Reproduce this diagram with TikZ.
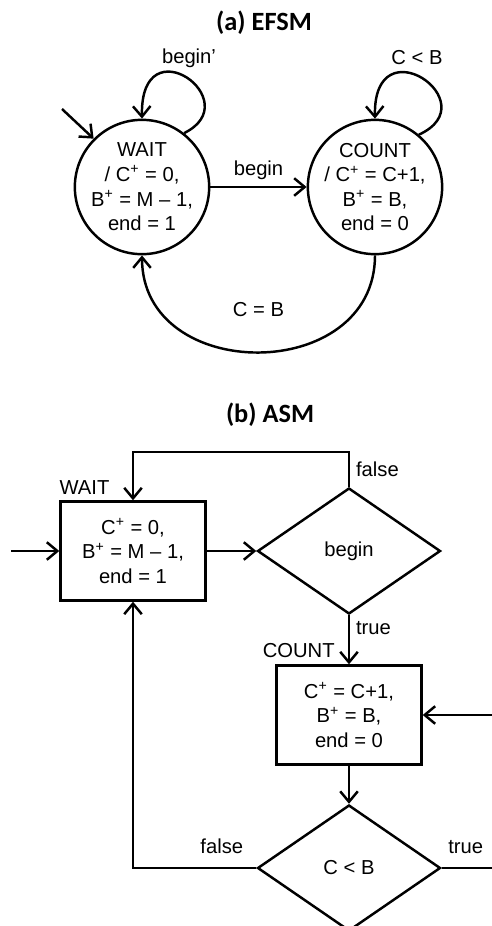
\documentclass[tikz,border=0pt]{standalone}
\usepackage{fontspec}
\setmainfont{Liberation Sans}
\newfontfamily\titlefont{Carlito}
\usetikzlibrary{shapes.geometric, arrows.meta}
\tikzset{
  state/.style={circle, minimum size=2.48cm, inner sep=0pt, align=center, draw=black, line width=1.4pt},
  process/.style={rectangle, minimum width=2.9cm, minimum height=1.98cm, align=center, draw=black, line width=1.4pt},
  decision/.style={diamond, minimum width=3.66cm, minimum height=2.52cm, inner sep=0pt, draw=black, line width=1.4pt},
  heading/.style={font=\titlefont\bfseries\fontsize{15pt}{18pt}\selectfont},
  arrow/.style={line width=1.4pt,->,>={Straight Barb[length=6pt,width=10pt]}}
}

\begin{document}
\begin{tikzpicture}[font=\fontsize{11.5pt}{14pt}\selectfont]

        \useasboundingbox (0,0) rectangle (9.84,-18.52);
        \clip (0,0) rectangle (9.84,-18.52);

        % Part (a): EFSM
        \node (titlea) [heading] at (5.28,-0.46) {(a) EFSM};
        \node (wait) [state] at (2.84,-3.74) {WAIT\\/ C\textsuperscript{+} = 0,\\B\textsuperscript{+} = M – 1,\\end = 1};
        \node (count) [state, right of=wait, node distance=4.66cm] {COUNT\\/ C\textsuperscript{+} = C+1,\\B\textsuperscript{+} = B,\\end = 0};
        \node (waitloop) [above of=wait, node distance=2.58cm, xshift=0.94cm] {begin’};
        \node (countloop) [above of=count, node distance=2.58cm, xshift=0.84cm] {C < B};
        \coordinate [above of=wait, node distance=1.56cm, xshift=-1.6cm] (init);

        % Part (b): ASM
        \node (titleb) [heading] at (5.40,-8.30) {(b) ASM};
        \node (waitbox) [process] at (2.66,-11.02) {C\textsuperscript{+} = 0,\\B\textsuperscript{+} = M – 1,\\end = 1};
        \node (begintest) [decision, right of=waitbox, node distance=4.32cm] {begin};
        \node (countbox) [process, below of=begintest, node distance=3.28cm] {C\textsuperscript{+} = C+1,\\B\textsuperscript{+} = B,\\end = 0};
        \node (cbtest) [decision, below of=countbox, node distance=3.06cm] {C < B};
        \node (waitname) [anchor=south west, inner xsep=0pt] at (waitbox.north west) {WAIT};
        \node (countname) [anchor=south east, inner xsep=0pt, xshift=-0.28cm] at (countbox.north) {COUNT};
        \coordinate [left of=waitbox, node distance=2.44cm] (entry);

        % Arrows (a)
        \draw [arrow] (init) -- (wait.135);
        \draw [arrow] (wait.52) .. controls +(1.3,0.64) and +(-0.04,1.92) .. (wait.north);
        \draw [arrow] (count.50) .. controls +(1.4,0.64) and +(-0.04,1.92) .. (count.north);
        \draw [arrow] (wait) -- node[anchor=south]{begin} (count);
        \draw [arrow] (count.south) .. controls +(0,-2.58) and +(0,-2.58) .. node[pos=0.5, above=0.56cm]{C = B} (wait.south);

        % Arrows (b)
        \draw [arrow] (entry) -- (waitbox);
        \draw [arrow] (waitbox) -- (begintest);
        \draw [arrow] (begintest.north) --++(0,0.7) node[midway, right]{false} -| (waitbox.north);
        \draw [arrow] (begintest) -- node[pos=0.27, right]{true} (countbox);
        \draw [arrow] (countbox) -- (cbtest);
        \draw [arrow] (cbtest.west) -| node[pos=0.14, above=0.15cm]{false} (waitbox.south);
        \draw [arrow] (cbtest.east) -- node[pos=0.32, above=0.15cm]{true} ++(1.5,0) |- (countbox.east);
        \end{tikzpicture}
\end{document}
